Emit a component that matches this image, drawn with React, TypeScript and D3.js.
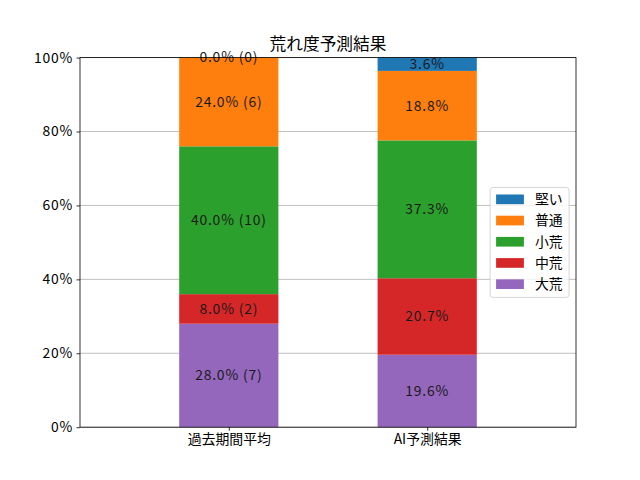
import React, { useEffect, useRef } from "react";
import * as d3 from "d3";

const categories = ["過去期間平均", "AI予測結果"];
// stack order, bottom to top
const seriesNames = ["大荒", "中荒", "小荒", "普通", "堅い"];
const daiare = [28.0, 19.6];
const chuare = [8.0, 20.7];
const shoare = [40.0, 37.3];
const futsu = [24.0, 18.8];
const katai = [0.0, 3.6];
// counts shown only for the past-period bar
const pastCounts = [7, 2, 10, 6, 0];
const yTicks = [0, 20, 40, 60, 80, 100];

const colors: Record<string, string> = {
  大荒: "#9467bd",
  中荒: "#d62728",
  小荒: "#2ca02c",
  普通: "#ff7f0e",
  堅い: "#1f77b4",
};

const FONT = "'Noto Sans CJK JP', 'DejaVu Sans', sans-serif";

const App: React.FC = () => {
  const svgRef = useRef<SVGSVGElement>(null);

  useEffect(() => {
    if (!svgRef.current) return;
    document.body.style.margin = "0";
    const width = 640;
    const height = 480;
    const margin = { top: 57.6, right: 64, bottom: 52.8, left: 80 };
    const innerWidth = width - margin.left - margin.right;
    const innerHeight = height - margin.top - margin.bottom;

    d3.select(svgRef.current).selectAll("*").remove();
    const svg = d3
      .select(svgRef.current)
      .attr("width", width)
      .attr("height", height)
      .style("font-family", FONT);

    svg.append("rect").attr("width", width).attr("height", height).attr("fill", "white");

    const g = svg
      .append("g")
      .attr("transform", `translate(${margin.left},${margin.top})`);

    const rows = categories.map((c, i) => ({
      category: c,
      大荒: daiare[i],
      中荒: chuare[i],
      小荒: shoare[i],
      普通: futsu[i],
      堅い: katai[i],
    }));

    const stacked = d3.stack<any>().keys(seriesNames)(rows);

    const x = d3.scaleLinear().domain([-0.75, 1.75]).range([0, innerWidth]);
    const y = d3.scaleLinear().domain([0, 100]).range([innerHeight, 0]);
    const barW = x(0.5) - x(0);

    // grid (behind bars)
    g.append("g")
      .selectAll("line")
      .data(yTicks)
      .enter()
      .append("line")
      .attr("x1", 0)
      .attr("x2", innerWidth)
      .attr("y1", (d) => y(d))
      .attr("y2", (d) => y(d))
      .attr("stroke", "#b0b0b0")
      .attr("stroke-width", 0.8);

    // bars
    stacked.forEach((layer) => {
      g.append("g")
        .selectAll("rect")
        .data(layer)
        .enter()
        .append("rect")
        .attr("x", (_, i) => x(i) - barW / 2)
        .attr("width", barW)
        .attr("y", (d) => y(d[1]))
        .attr("height", (d) => y(d[0]) - y(d[1]))
        .attr("fill", colors[layer.key]);
    });

    // labels
    stacked.forEach((layer, si) => {
      g.append("g")
        .selectAll("text")
        .data(layer)
        .enter()
        .append("text")
        .attr("x", (_, i) => x(i))
        .attr("y", (d) => y((d[0] + d[1]) / 2))
        .attr("dy", "0.35em")
        .attr("text-anchor", "middle")
        .style("font-size", "13.9px")
        .style("letter-spacing", "0.8px")
        .attr("fill", "#1a1a1a")
        .text((d, i) => {
          const v = d[1] - d[0];
          const pct = `${v.toFixed(1)}%`;
          return i === 0 ? `${pct} (${pastCounts[si]})` : pct;
        });
    });

    // axes
    const xAxis = g
      .append("g")
      .attr("transform", `translate(0,${innerHeight})`)
      .call(
        d3
          .axisBottom(x)
          .tickValues([0, 1])
          .tickFormat((d) => categories[d as number])
          .tickSize(3.5)
          .tickPadding(3.5)
      );
    const yAxis = g.append("g").call(
      d3
        .axisLeft(y)
        .tickValues(yTicks)
        .tickFormat((d) => `${d}%`)
        .tickSize(3.5)
        .tickPadding(3.5)
    );
    [xAxis, yAxis].forEach((a) => {
      a.select(".domain").remove();
      a.selectAll("text").style("font-size", "13.9px").style("font-family", FONT).attr("fill", "black");
      a.selectAll("line").attr("stroke", "black").attr("stroke-width", 0.8);
    });
    yAxis.selectAll("text").style("letter-spacing", "0.8px");

    // spines
    g.append("rect")
      .attr("width", innerWidth)
      .attr("height", innerHeight)
      .attr("fill", "none")
      .attr("stroke", "black")
      .attr("stroke-width", 0.8);

    // title
    svg
      .append("text")
      .attr("x", margin.left + innerWidth / 2)
      .attr("y", margin.top - 8)
      .attr("text-anchor", "middle")
      .style("font-size", "16.7px")
      .text("荒れ度予測結果");

    // legend (center right)
    const legendItems = [...seriesNames].reverse();
    const lw = 79;
    const lh = 110;
    const lx = innerWidth - 6.9 - lw;
    const ly = innerHeight / 2 - lh / 2;
    const legend = g.append("g").attr("transform", `translate(${lx},${ly})`);
    legend
      .append("rect")
      .attr("width", lw)
      .attr("height", lh)
      .attr("rx", 3)
      .attr("fill", "white")
      .attr("fill-opacity", 0.8)
      .attr("stroke", "#cccccc")
      .attr("stroke-width", 0.8);
    legendItems.forEach((name, i) => {
      const cy = 12 + i * 21.2;
      legend
        .append("rect")
        .attr("x", 6)
        .attr("y", cy - 4.9)
        .attr("width", 27.8)
        .attr("height", 9.7)
        .attr("fill", colors[name]);
      legend
        .append("text")
        .attr("x", 44.8)
        .attr("y", cy)
        .attr("dy", "0.35em")
        .style("font-size", "13.9px")
        .text(name);
    });
  }, []);

  return <svg ref={svgRef}></svg>;
};

export default App;
